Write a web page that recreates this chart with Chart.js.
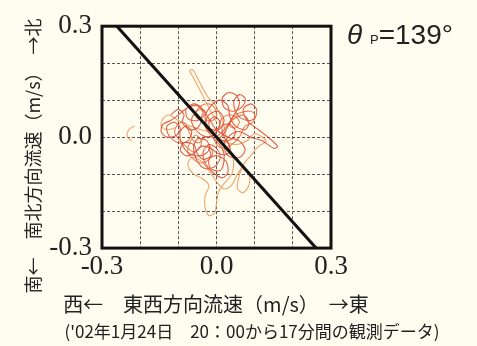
<!DOCTYPE html>
<html>
<head>
<meta charset="utf-8">
<script src="https://cdn.jsdelivr.net/npm/chart.js@4"></script>
<style>
  body { margin: 0; background: #fffdf0; }
  .wrap { position: relative; width: 477px; height: 346px; }
  .ytitle {
    position: absolute; left: 32px; top: 156px; width: 320px;
    transform: translate(-50%, -50%) rotate(-90deg);
    text-align: center; white-space: nowrap;
    font: 18px "Noto Sans CJK JP"; color: #222;
  }
  .xtitle {
    position: absolute; left: 16px; top: 289px; width: 400px; line-height: 26px;
    text-align: center; white-space: nowrap;
    font: 20px "Noto Sans CJK JP"; color: #222;
  }
  .theta {
    position: absolute; left: 347px; top: 19px; line-height: 28px;
    font: 28px "Liberation Sans Narrow", "Liberation Sans"; color: #222; white-space: nowrap;
  }
</style>
</head>
<body>
<div class="wrap">
  <canvas id="myChart" width="477" height="346"></canvas>
  <div class="ytitle">南←　南北方向流速（m/s）　→北</div>
  <div class="xtitle">西←　東西方向流速（m/s）　→東</div>
  <div class="theta"><i>θ</i> <span style="font-size:13px">P</span>=139°</div>
</div>
<script>
// 流速ベクトルの軌跡 (m/s)
let darkEast = [0, 0.02, 0.04, 0.06, 0.05, 0.03, 0.015, 0.02, 0.045, 0.07,
  0.075, 0.06, 0.045, 0.055, 0.08, 0.1, 0.105, 0.09, 0.07, 0.08,
  0.11, 0.135, 0.16, 0.15, 0.12, 0.09, 0.06, 0.035, 0.02, 0.03,
  0.06, 0.075, 0.06, 0.03, 0, -0.02, -0.04, -0.06, -0.08, -0.075,
  -0.05, -0.035, -0.05, -0.075, -0.1, -0.12, -0.14, -0.145, -0.13, -0.105,
  -0.095, -0.11, -0.13, -0.125, -0.1, -0.075, -0.065, -0.08, -0.095, -0.09,
  -0.07, -0.04, -0.02, -0.025, -0.05, -0.06, -0.05, -0.03, -0.005, 0.01,
  0, -0.02, -0.035, -0.03, -0.01, 0.015, 0.03, 0.025, 0, -0.02,
  -0.015, 0.01, 0.02, 0.015, -0.01, -0.03, -0.02, 0.005, 0.02, 0.005,
  -0.02, -0.03, -0.01, 0.01, 0.03, 0.035, 0.05, 0.075, 0.085, 0.07,
  0.04, 0.02, 0];
let darkNorth = [0, 0.02, 0.05, 0.09, 0.115, 0.12, 0.105, 0.08, 0.07, 0.085,
  0.105, 0.115, 0.095, 0.06, 0.045, 0.05, 0.075, 0.09, 0.075, 0.045,
  0.02, 0, -0.025, -0.03, -0.01, 0, 0.015, 0.005, -0.02, -0.05,
  -0.055, -0.035, -0.01, 0, 0.02, 0.05, 0.08, 0.09, 0.075, 0.05,
  0.045, 0.065, 0.085, 0.08, 0.06, 0.045, 0.035, 0.015, 0, 0.005,
  0.025, 0.04, 0.03, 0.005, -0.015, -0.01, 0.015, 0.03, 0.015, -0.02,
  -0.045, -0.05, -0.035, -0.01, -0.005, -0.03, -0.065, -0.085, -0.08, -0.055,
  -0.03, -0.02, -0.04, -0.07, -0.095, -0.11, -0.095, -0.065, -0.05, -0.06,
  -0.085, -0.09, -0.06, -0.03, 0, 0.03, 0.06, 0.07, 0.045, 0.02,
  0.025, 0.055, 0.09, 0.1, 0.085, 0.055, 0.03, 0.02, 0.04, 0.06,
  0.045, 0.01, -0.01];

let midEast = [-0.06, -0.045, -0.03, -0.035, -0.05, -0.055, -0.04, -0.02, -0.005, 0,
  -0.01, -0.025, -0.03, -0.015, 0.005, 0.01, 0.03, 0.05, 0.06, 0.05,
  0.035, 0.04, 0.06, 0.09, 0.1, 0.095, 0.075, 0.06, 0.04, 0.02,
  0, -0.01, -0.03, -0.045, -0.06, -0.07, -0.085, -0.1, -0.11, -0.1,
  -0.08, -0.06, -0.045, -0.04, -0.055, -0.07, -0.075, -0.06, -0.04, -0.02,
  -0.01, -0.02];
let midNorth = [0.06, 0.075, 0.07, 0.055, 0.05, 0.065, 0.085, 0.09, 0.08, 0.06,
  0.045, 0.045, 0.03, 0.015, 0.025, 0.045, 0.06, 0.055, 0.04, 0.025,
  0.03, 0.05, 0.065, 0.07, 0.06, 0.04, 0.03, 0, -0.02, -0.03,
  -0.02, 0, 0, -0.015, -0.01, 0.01, 0.04, 0.035, 0.015, -0.005,
  -0.025, -0.04, -0.03, -0.01, 0.005, -0.015, -0.04, -0.06, -0.07, -0.06,
  -0.04, -0.02];

let coreEast = [-0.12, -0.1, -0.085, -0.09, -0.07, -0.05, -0.04, -0.06, -0.065, -0.045,
  -0.02, 0, 0.01, -0.005, -0.02, -0.01, 0.015, 0.04, 0.05, 0.035,
  0.015, 0.02, 0.035, 0.03, 0.005, -0.015, -0.04, -0.06, -0.08, -0.095,
  -0.085, -0.06, -0.05, -0.035, -0.015, -0.02];
let coreNorth = [0.06, 0.075, 0.06, 0.04, 0.02, 0.025, 0.045, 0.06, 0.04, 0.01,
  0, 0.015, 0.04, 0.055, 0.04, 0.01, -0.01, -0.005, 0.015, 0.035,
  0.03, 0, -0.025, -0.045, -0.045, -0.03, -0.025, -0.045, -0.05, -0.035,
  -0.015, -0.02, -0.045, -0.06, -0.05, -0.03];

let lightEast = [0, -0.015, -0.03, -0.045, -0.06, -0.07, -0.062, -0.05, -0.035, -0.02,
  -0.005, 0.01, 0.02, 0.025, 0.035, 0.045, 0.04, 0.02, 0.005, 0,
  -0.005, -0.02, -0.03, -0.03, -0.02, -0.04, -0.06, -0.075, -0.065, -0.04,
  -0.02, 0, 0.02, 0.04, 0.055, 0.07, 0.085, 0.085, 0.07, 0.055,
  0.058, 0.07, 0.09, 0.11, 0.13, 0.1, 0.08, 0.05, 0.02, -0.01,
  -0.04, -0.07, -0.1, -0.125, -0.14, -0.145, -0.13, -0.11];
let lightNorth = [0.04, 0.07, 0.1, 0.13, 0.16, 0.18, 0.182, 0.16, 0.13, 0.105,
  0.09, 0.06, 0.03, 0, -0.03, -0.065, -0.1, -0.125, -0.15, -0.18,
  -0.205, -0.212, -0.19, -0.16, -0.13, -0.11, -0.1, -0.075, -0.055, -0.065,
  -0.09, -0.12, -0.14, -0.13, -0.1, -0.08, -0.1, -0.13, -0.15, -0.14,
  -0.11, -0.075, -0.05, -0.025, -0.01, 0.01, -0.01, -0.02, -0.01, 0.01,
  0.02, 0.03, 0.045, 0.06, 0.05, 0.03, 0.02, 0.025];

let arcEast = [-0.215, -0.228, -0.234, -0.232, -0.222];
let arcNorth = [0.03, 0.022, 0.01, -0.002, -0.01];

// 主軸 θp=139°
let axisEast = [-0.261, 0.261];
let axisNorth = [0.3, -0.3];

let xTickLabels = ['-0.3', '', '', '0.0', '', '', '0.3'];
let yTickLabels = ['-0.3', '', '', '0.0', '', '', '0.3'];

function toPoints(xs, ys) {
  return xs.map((x, i) => ({ x: x, y: ys[i] }));
}

const frame = {
  id: 'frame',
  beforeDraw(chart) {
    let ctx = chart.ctx;
    ctx.save();
    ctx.fillStyle = '#fffdf0';
    ctx.fillRect(0, 0, chart.width, chart.height);
    ctx.restore();
  },
  afterDatasetsDraw(chart) {
    let a = chart.chartArea, ctx = chart.ctx;
    ctx.save();
    ctx.strokeStyle = '#111';
    ctx.lineWidth = 3;
    ctx.strokeRect(a.left, a.top, a.right - a.left, a.bottom - a.top);
    ctx.restore();
  }
};

let tickFont = { family: '"Liberation Serif", "Times New Roman", serif', size: 27 };
let trace = { showLine: true, borderWidth: 1.1, pointRadius: 0, tension: 0.3 };

new Chart(document.getElementById('myChart'), {
  type: 'scatter',
  data: {
    datasets: [
      { data: toPoints(axisEast, axisNorth), showLine: true, borderColor: '#111', borderWidth: 3, pointRadius: 0 },
      { ...trace, data: toPoints(darkEast, darkNorth), borderColor: 'rgba(222,70,45,0.85)' },
      { ...trace, data: toPoints(coreEast, coreNorth), borderColor: 'rgba(215,60,40,0.8)' },
      { ...trace, data: toPoints(midEast, midNorth), borderColor: 'rgba(232,110,60,0.85)' },
      { ...trace, data: toPoints(lightEast, lightNorth), borderColor: 'rgba(240,155,95,0.9)' },
      { ...trace, data: toPoints(arcEast, arcNorth), borderColor: 'rgba(240,155,95,0.9)' }
    ]
  },
  options: {
    responsive: false,
    animation: false,
    devicePixelRatio: 1,
    layout: { padding: { left: 27, right: 0, top: 19, bottom: 0 } },
    plugins: {
      legend: { display: false },
      tooltip: { enabled: false },
      title: {
        display: true,
        position: 'bottom',
        text: "('02年1月24日　20：00から17分間の観測データ)",
        font: { family: '"Noto Sans CJK JP"', size: 17, weight: 'normal' },
        color: '#222',
        padding: { top: 0, bottom: 4 }
      }
    },
    scales: {
      x: {
        min: -0.3, max: 0.3,
        afterFit: function (scale) { scale.height = 73.5; },
        ticks: { stepSize: 0.1, padding: 3, font: tickFont, color: '#222', maxRotation: 0, autoSkip: false,
          callback: (v, i) => xTickLabels[i] },
        grid: { color: '#555', lineWidth: 1, drawTicks: false, borderDash: [3, 2] },
        border: { display: false, dash: [3, 2] }
      },
      y: {
        min: -0.3, max: 0.3,
        afterFit: function (scale) { scale.width = 75; },
        ticks: { stepSize: 0.1, padding: 10, font: tickFont, color: '#222', autoSkip: false,
          callback: (v, i) => yTickLabels[i] },
        grid: { color: '#555', lineWidth: 1, drawTicks: false, borderDash: [3, 2] },
        border: { display: false, dash: [3, 2] }
      },
      // 右側の余白 (θp の表示領域)
      y2: {
        position: 'right',
        min: -0.3, max: 0.3,
        afterFit: function (scale) { scale.width = 146; },
        ticks: { display: false },
        grid: { display: false, drawTicks: false },
        border: { display: false }
      }
    }
  },
  plugins: [frame]
});
</script>
</body>
</html>
